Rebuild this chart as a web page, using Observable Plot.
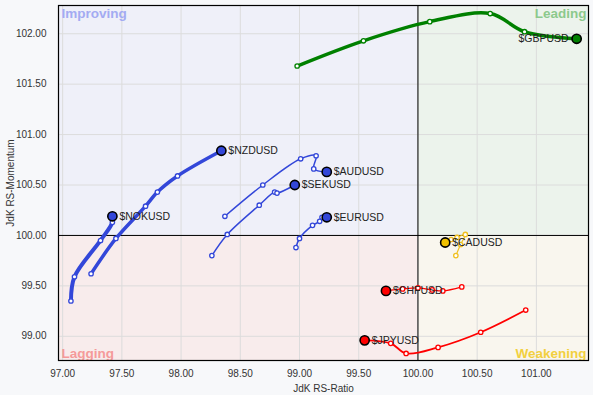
<!DOCTYPE html>
<html>
<head>
<meta charset="utf-8">
<script src="https://cdn.jsdelivr.net/npm/d3@7"></script>
<script src="https://cdn.jsdelivr.net/npm/@observablehq/plot@0.6"></script>
<style>
  html, body { margin: 0; padding: 0; background: #f7f8fa; }
  #chart { width: 593px; height: 395px; }
</style>
</head>
<body>
<div id="chart"></div>
<script>
// ---- data ----
const seriesNames = ["$GBPUSD", "$NZDUSD", "$NOKUSD", "$AUDUSD", "$SEKUSD", "$EURUSD", "$CADUSD", "$CHFUSD", "$JPYUSD"];
const seriesColors = ["#008000", "#3347d9", "#3347d9", "#3347d9", "#3347d9", "#3347d9", "#f0c020", "#ff0000", "#ff0000"];
const headColors  = ["#008000", "#3347d9", "#3347d9", "#3347d9", "#3347d9", "#3347d9", "#f0c000", "#ff0000", "#ff0000"];
const lineWidths  = [3.5, 3.5, 4, 1.5, 1.5, 1.5, 1.2, 1.2, 1.8];
const labelSide   = ["left", "right", "right", "right", "right", "right", "right", "right", "right"];

const gbpX = [98.98, 99.54, 100.10, 100.61, 100.90, 101.34];
const gbpY = [101.68, 101.93, 102.12, 102.20, 102.02, 101.95];
const nzdX = [97.24, 97.45, 97.70, 97.80, 97.97, 98.34];
const nzdY = [99.62, 99.97, 100.29, 100.43, 100.59, 100.84];
const nokX = [97.07, 97.10, 97.32, 97.42, 97.42];
const nokY = [99.35, 99.59, 99.95, 100.13, 100.19];
const audX = [98.37, 98.69, 99.01, 99.14, 99.12, 99.23];
const audY = [100.19, 100.50, 100.76, 100.79, 100.66, 100.63];
const sekX = [98.26, 98.39, 98.66, 98.79, 98.81, 98.96];
const sekY = [99.80, 100.01, 100.30, 100.43, 100.42, 100.50];
const eurX = [98.97, 99.00, 99.11, 99.17, 99.19, 99.23];
const eurY = [99.88, 99.97, 100.10, 100.14, 100.18, 100.18];
const cadX = [100.32, 100.36, 100.40, 100.33, 100.28, 100.23];
const cadY = [99.80, 99.91, 100.01, 99.98, 99.96, 99.93];
const chfX = [100.37, 100.21, 100.12, 100.00, 99.87, 99.73];
const chfY = [99.49, 99.45, 99.46, 99.48, 99.47, 99.45];
const jpyX = [100.91, 100.53, 100.17, 99.90, 99.77, 99.55];
const jpyY = [99.26, 99.04, 98.89, 98.83, 98.93, 98.96];

const xValues = [gbpX, nzdX, nokX, audX, sekX, eurX, cadX, chfX, jpyX];
const yValues = [gbpY, nzdY, nokY, audY, sekY, eurY, cadY, chfY, jpyY];

const xTicks = [97, 97.5, 98, 98.5, 99, 99.5, 100, 100.5, 101];
const yTicks = [99, 99.5, 100, 100.5, 101, 101.5, 102];
const xDomain = [96.965, 101.44];
const yDomain = [98.76, 102.28];
const center = 100;

const quadrantNames  = ["Improving", "Leading", "Lagging", "Weakening"];
const quadrantFills  = ["#eff0f9", "#ecf3ec", "#f8ecec", "#f9f6ee"];
const quadrantColors = ["#a3abf2", "#8cc98c", "#f59a9a", "#f2d040"];
const quadrantAnchors = ["top-left", "top-right", "bottom-left", "bottom-right"];

// ---- build tables ----
const quadrants = [
  {name: quadrantNames[0], x1: xDomain[0], x2: center, y1: center, y2: yDomain[1], fill: quadrantFills[0]},
  {name: quadrantNames[1], x1: center, x2: xDomain[1], y1: center, y2: yDomain[1], fill: quadrantFills[1]},
  {name: quadrantNames[2], x1: xDomain[0], x2: center, y1: yDomain[0], y2: center, fill: quadrantFills[2]},
  {name: quadrantNames[3], x1: center, x2: xDomain[1], y1: yDomain[0], y2: center, fill: quadrantFills[3]}
];

const marks = [
  Plot.rect(quadrants, {x1: "x1", x2: "x2", y1: "y1", y2: "y2", fill: "fill"}),
  Plot.gridX(xTicks, {stroke: "#dcdcdc", strokeOpacity: 1, strokeWidth: 1}),
  Plot.gridY(yTicks, {stroke: "#dcdcdc", strokeOpacity: 1, strokeWidth: 1}),
  Plot.ruleX([center], {stroke: "#000", strokeWidth: 1}),
  Plot.ruleY([center], {stroke: "#000", strokeWidth: 1}),
  Plot.axisX(xTicks, {tickSize: 0, tickPadding: 9, tickFormat: d3.format(".2f"), fontSize: 10, fill: "#333", label: null}),
  Plot.axisY(yTicks, {tickSize: 0, tickPadding: 12, tickFormat: d3.format(".2f"), fontSize: 10, fill: "#333", label: null}),
  Plot.text(["JdK RS-Ratio"], {frameAnchor: "bottom", dy: 28, fontSize: 10, fill: "#333", lineAnchor: "middle"}),
  Plot.text(["JdK RS-Momentum"], {frameAnchor: "left", dx: -48, rotate: -90, fontSize: 10, fill: "#333", textAnchor: "middle", lineAnchor: "middle"})
];

quadrantNames.forEach((q, i) => {
  const a = quadrantAnchors[i];
  const left = a.endsWith("left");
  const top = a.startsWith("top");
  marks.push(Plot.text([q], {
    frameAnchor: a, dx: left ? 3 : -2, dy: top ? 3 : -3,
    fontSize: 13.5, fontWeight: "bold", fill: quadrantColors[i],
    textAnchor: left ? "start" : "end", lineAnchor: top ? "top" : "bottom"
  }));
});

seriesNames.forEach((name, s) => {
  const rows = xValues[s].map((x, i) => ({name, x, y: yValues[s][i]}));
  const tail = rows.slice(0, -1);
  const head = rows.slice(-1);
  marks.push(Plot.line(rows, {x: "x", y: "y", stroke: seriesColors[s], strokeWidth: lineWidths[s], curve: "catmull-rom"}));
  marks.push(Plot.dot(tail, {x: "x", y: "y", r: 2.2, fill: "#fff", stroke: seriesColors[s], strokeWidth: 1.3}));
  marks.push(Plot.dot(head, {x: "x", y: "y", r: 4.6, fill: headColors[s], stroke: "#000", strokeWidth: 1.6}));
  const left = labelSide[s] === "left";
  marks.push(Plot.text(head, {x: "x", y: "y", text: "name", dx: left ? -8 : 7, textAnchor: left ? "end" : "start", fontSize: 10.5, fill: "#222"}));
});

marks.push(Plot.frame({stroke: "#000", strokeWidth: 1.2}));

const chart = Plot.plot({
  width: 593,
  height: 395,
  marginLeft: 58,
  marginRight: 5,
  marginTop: 5,
  marginBottom: 35,
  style: {background: "transparent", fontFamily: "'Liberation Sans', Arial, sans-serif", fontSize: "10px", color: "#333"},
  x: {domain: xDomain, label: null},
  y: {domain: yDomain, label: null},
  marks
});
document.getElementById("chart").appendChild(chart);
</script>
</body>
</html>
